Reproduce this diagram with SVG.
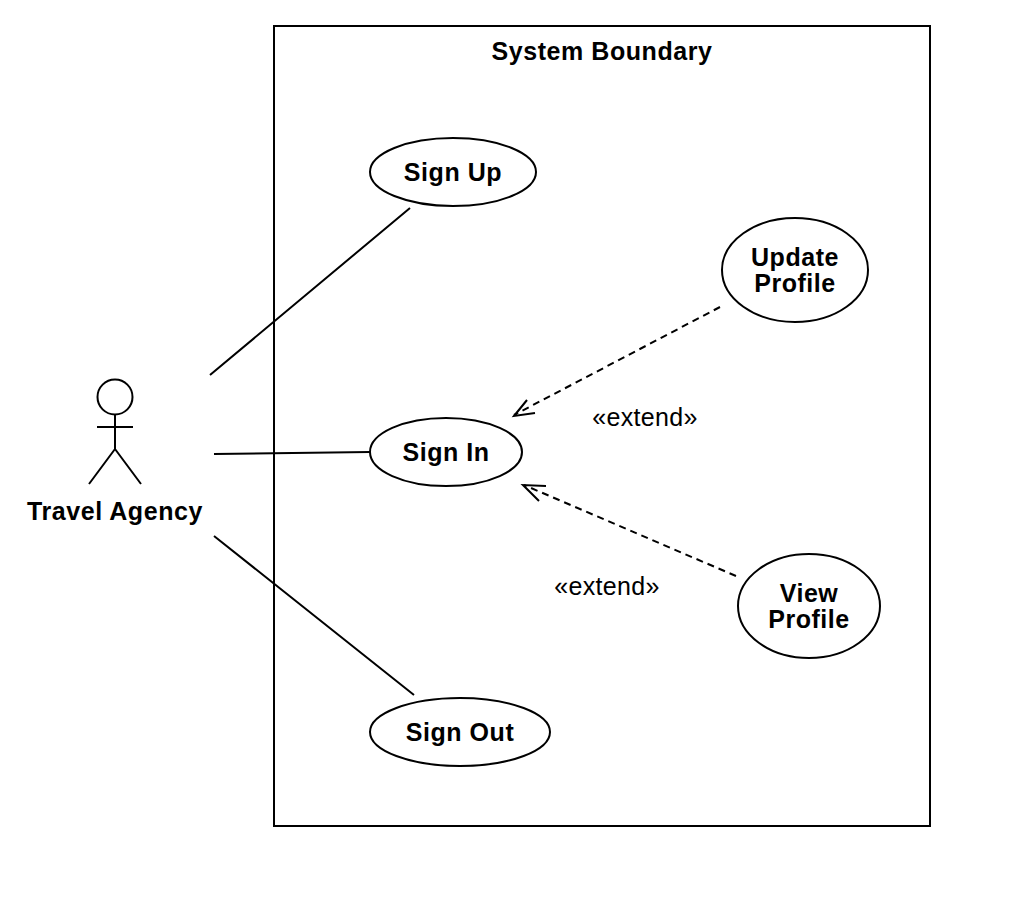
<svg xmlns="http://www.w3.org/2000/svg" width="1012" height="900" viewBox="0 0 1012 900">
<style>
.s{fill:#fff;stroke:#000;stroke-width:2}
.l{fill:none;stroke:#000;stroke-width:2}
.d{fill:none;stroke:#000;stroke-width:2;stroke-dasharray:7 5}
text{font-family:"Liberation Sans",Arial,sans-serif;font-size:25px;fill:#000;text-anchor:middle}
.b{font-weight:bold;letter-spacing:.55px}
.e{letter-spacing:.3px}
</style>
<rect width="1012" height="900" fill="#fff"/>
<g id="boundary"><rect class="s" x="274" y="26" width="656" height="800"/><text class="b" x="602" y="60">System Boundary</text></g>
<g id="actor">
<circle class="s" cx="115" cy="397" r="17.500"/>
<path class="l" d="M115 415V449M97 427H133M115 449L89 484M115 449L141 484"/>
<text class="b" x="115" y="520">Travel Agency</text></g>
<g id="signup"><ellipse class="s" cx="453" cy="172" rx="83" ry="34"/><text class="b" x="453" y="181">Sign Up</text></g>
<g id="signin"><ellipse class="s" cx="446" cy="452" rx="76" ry="34"/><text class="b" x="446" y="461">Sign In</text></g>
<g id="signout"><ellipse class="s" cx="460" cy="732" rx="90" ry="34"/><text class="b" x="460" y="741">Sign Out</text></g>
<g id="update"><ellipse class="s" cx="795" cy="270" rx="73" ry="52"/><text class="b" x="795" y="266">Update</text><text class="b" x="795" y="292">Profile</text></g>
<g id="view"><ellipse class="s" cx="809" cy="606" rx="71" ry="52"/><text class="b" x="809" y="602">View</text><text class="b" x="809" y="628">Profile</text></g>
<g id="connectors">
<path class="l" d="M210 375L410 208M214 454L370 452M214 536L414 695"/>
<path class="d" d="M720 307L514 415M736 576L524 485"/>
<path class="l" d="M527 400L514 416L535 413M546 486L523 485L539 501"/>
</g>
<text class="e" x="645" y="426">«extend»</text>
<text class="e" x="607" y="595">«extend»</text>
</svg>
